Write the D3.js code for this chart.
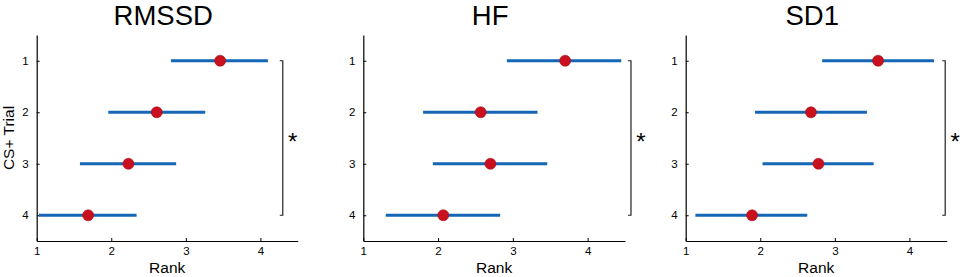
<!DOCTYPE html>
<html>
<head>
<meta charset="utf-8">
<script src="https://cdn.jsdelivr.net/npm/d3@7"></script>
<style>
    body { margin: 0; background: #fff; }
    svg { display: block; font-family: "Liberation Sans", Arial, sans-serif; }
</style>
</head>
<body>
<div id="chart"></div>
<script>
// data
const trials = [1, 2, 3, 4];
const titles = ["RMSSD", "HF", "SD1"];
const xTicks = [1, 2, 3, 4];

const rmssdMean = [3.46, 2.61, 2.23, 1.69];
const rmssdLow  = [2.80, 1.96, 1.58, 1.03];
const rmssdHigh = [4.10, 3.26, 2.87, 2.34];

const hfMean = [3.70, 2.57, 2.70, 2.07];
const hfLow  = [2.92, 1.80, 1.93, 1.30];
const hfHigh = [4.45, 3.33, 3.46, 2.83];

const sd1Mean = [3.58, 2.68, 2.78, 1.89];
const sd1Low  = [2.83, 1.93, 2.03, 1.13];
const sd1High = [4.33, 3.43, 3.52, 2.63];

// significance bracket: x position (rank units), spans trial 1 to trial 4
const bracketX = [4.30, 4.58, 4.48];
const bracketLabel = "*";

const panels = [
    { title: titles[0], mean: rmssdMean, low: rmssdLow, high: rmssdHigh, bx: bracketX[0], left: 36.7, right: 297.7 },
    { title: titles[1], mean: hfMean, low: hfLow, high: hfHigh, bx: bracketX[1], left: 363.3, right: 625 },
    { title: titles[2], mean: sd1Mean, low: sd1Low, high: sd1High, bx: bracketX[2], left: 685.7, right: 946.7 }
];

const width = 964, height = 277;
const plotTop = 35, plotBottom = 241;
const blue = "#1466b6", red = "#c8101f";

const svg = d3.select("#chart").append("svg")
    .attr("width", width)
    .attr("height", height);

const yScale = d3.scaleLinear().domain([0.5, 4.5]).range([plotTop, plotBottom]);

panels.forEach((p, i) => {
    const xScale = d3.scaleLinear().domain([1, 4.5]).range([p.left, p.right]);
    const g = svg.append("g").attr("class", "panel");

    // axes
    const xAxis = g.append("g")
        .attr("transform", "translate(0," + plotBottom + ")")
        .call(d3.axisBottom(xScale).tickValues(xTicks).tickFormat(d3.format("d"))
            .tickSize(-3).tickPadding(6).tickSizeOuter(0));
    const yAxis = g.append("g")
        .attr("transform", "translate(" + p.left + ",0)")
        .call(d3.axisLeft(yScale).tickValues(trials).tickFormat(d3.format("d"))
            .tickSize(-3).tickPadding(8).tickSizeOuter(0));

    [xAxis, yAxis].forEach(ax => {
        ax.select(".domain").attr("stroke", "#000").attr("stroke-width", 1.2);
        ax.selectAll(".tick line").attr("stroke", "#000");
        ax.selectAll(".tick text")
            .attr("font-size", 11.5)
            .attr("font-family", "Liberation Sans, Arial, sans-serif")
            .attr("fill", "#000");
    });

    // title
    g.append("text")
        .attr("x", (p.left + p.right) / 2 - 4)
        .attr("y", 25)
        .attr("text-anchor", "middle")
        .attr("font-size", 27.5)
        .text(p.title);

    // x label
    g.append("text")
        .attr("x", (p.left + p.right) / 2)
        .attr("y", 273)
        .attr("text-anchor", "middle")
        .attr("font-size", 15.5)
        .text("Rank");

    if (i === 0) {
        g.append("text")
            .attr("transform", "rotate(-90)")
            .attr("x", -138)
            .attr("y", 14)
            .attr("text-anchor", "middle")
            .attr("font-size", 15.5)
            .text("CS+ Trial");
    }

    // error bars
    g.selectAll(".bar")
        .data(trials)
        .join("line")
        .attr("class", "bar")
        .attr("x1", (d, k) => xScale(p.low[k]))
        .attr("x2", (d, k) => xScale(p.high[k]))
        .attr("y1", d => yScale(d))
        .attr("y2", d => yScale(d))
        .attr("stroke", blue)
        .attr("stroke-width", 3);

    // means
    g.selectAll(".dot")
        .data(trials)
        .join("circle")
        .attr("class", "dot")
        .attr("cx", (d, k) => xScale(p.mean[k]))
        .attr("cy", d => yScale(d))
        .attr("r", 5.5)
        .attr("fill", red)
        .attr("stroke", "#a80c18")
        .attr("stroke-width", 0.6);

    // significance bracket
    const bx = xScale(p.bx);
    const y1 = yScale(trials[0]), y4 = yScale(trials[trials.length - 1]);
    g.append("path")
        .attr("d", "M" + (bx - 3) + "," + y1 + "H" + bx + "V" + y4 + "H" + (bx - 3))
        .attr("fill", "none")
        .attr("stroke", "#222")
        .attr("stroke-width", 1.2);
    g.append("text")
        .attr("x", bx + 10)
        .attr("y", (y1 + y4) / 2 + 12)
        .attr("text-anchor", "middle")
        .attr("font-size", 24)
        .text(bracketLabel);
});
</script>
</body>
</html>
